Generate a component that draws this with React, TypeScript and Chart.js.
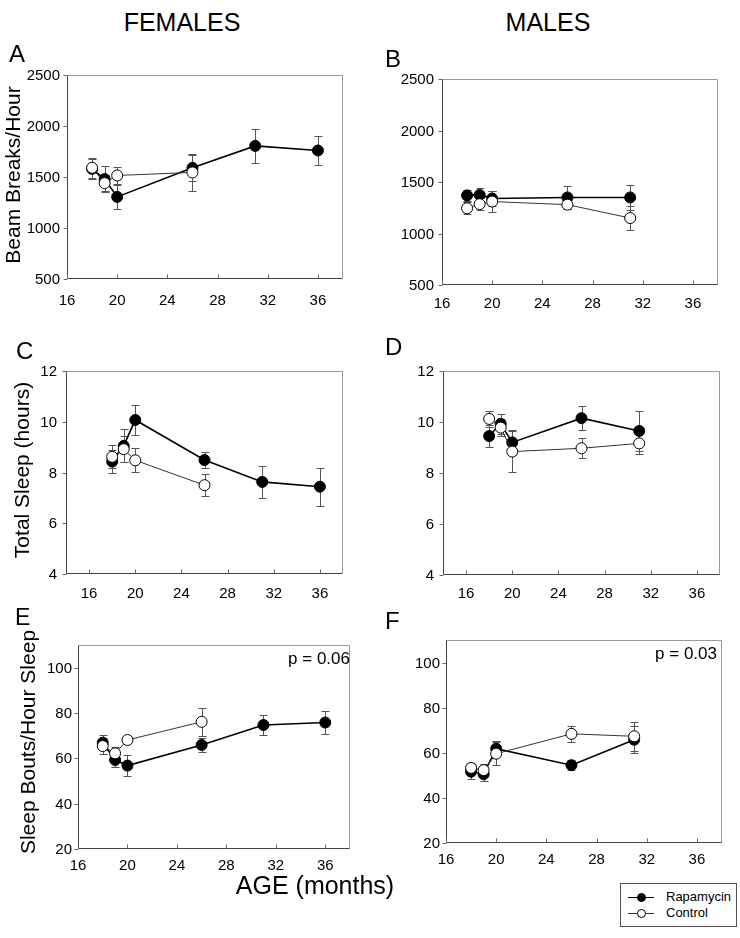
import React, { useEffect, useRef } from 'react';
import { Chart, registerables } from 'chart.js';
Chart.register(...registerables);

const FONT = '"Liberation Sans", Arial, Helvetica, sans-serif';

// ---- data ----
const agesFemaleRapa = [18, 19, 20, 26, 31, 36];
const agesFemaleCtrl = [18, 19, 20, 26];
const agesMale = [18, 19, 20, 26, 31];

const xTickValues = [16, 20, 24, 28, 32, 36];
const beamTicks = [500, 1000, 1500, 2000, 2500];
const sleepTicks = [4, 6, 8, 10, 12];
const boutTicks = [20, 40, 60, 80, 100];

// A: Females beam breaks/hour
const beamFemRapa = [1580, 1480, 1305, 1590, 1805, 1760];
const beamFemRapaErr = [100, 130, 115, 125, 165, 140];
const beamFemCtrl = [1590, 1440, 1515, 1545];
const beamFemCtrlErr = [95, 80, 85, 185];
// B: Males beam breaks/hour
const beamMaleRapa = [1370, 1375, 1340, 1350, 1350];
const beamMaleRapaErr = [55, 70, 70, 110, 120];
const beamMaleCtrl = [1245, 1285, 1310, 1280, 1150];
const beamMaleCtrlErr = [60, 60, 105, 45, 120];
// C: Females total sleep
const sleepFemRapa = [8.43, 9.05, 10.07, 8.49, 7.63, 7.44];
const sleepFemRapaErr = [0.45, 0.65, 0.6, 0.33, 0.63, 0.75];
const sleepFemCtrl = [8.62, 8.92, 8.48, 7.5];
const sleepFemCtrlErr = [0.45, 0.5, 0.47, 0.44];
// D: Males total sleep
const sleepMaleRapa = [9.45, 9.93, 9.2, 10.15, 9.65];
const sleepMaleRapaErr = [0.44, 0.4, 0.5, 0.46, 0.8];
const sleepMaleCtrl = [10.12, 9.78, 8.84, 8.97, 9.16];
const sleepMaleCtrlErr = [0.3, 0.33, 0.8, 0.4, 0.4];
// E: Females sleep bouts/hour sleep
const boutFemRapa = [66.9, 59.3, 56.8, 65.9, 74.7, 75.8];
const boutFemRapaErr = [3.4, 3, 4.5, 3, 4.6, 5];
const boutFemCtrl = [65.4, 62.2, 68.1, 76.1];
const boutFemCtrlErr = [3.5, 3, 1.5, 6.3];
// F: Males sleep bouts/hour sleep
const boutMaleRapa = [51.6, 50.5, 61.8, 54.5, 65.8];
const boutMaleRapaErr = [3.3, 3, 3.4, 2.2, 6];
const boutMaleCtrl = [53.3, 52.3, 59.6, 68.4, 67.3];
const boutMaleCtrlErr = [2.2, 2.6, 5, 3.4, 6.3];

const seriesNames = ['Rapamycin', 'Control'];

// ---- layout ----
const PAD_LEFT = 60;
const PAD_TOP = 14;
const PAD_RIGHT = 12;
const PAD_BOTTOM = 40;
const TICK_FONT = 15;

type Box = { l: number; t: number; r: number; b: number };

const panels = [
  {
    key: 'A', box: { l: 67, t: 75, r: 343, b: 279 }, xMin: 16, xMax: 38, yMin: 500, yMax: 2500, yTicks: beamTicks, xOff: 22, yGap: 7,
    rapa: [agesFemaleRapa, beamFemRapa, beamFemRapaErr], ctrl: [agesFemaleCtrl, beamFemCtrl, beamFemCtrlErr],
  },
  {
    key: 'B', box: { l: 442, t: 79, r: 718, b: 285 }, xMin: 16, xMax: 38, yMin: 500, yMax: 2500, yTicks: beamTicks, xOff: 19, yGap: 8,
    rapa: [agesMale, beamMaleRapa, beamMaleRapaErr], ctrl: [agesMale, beamMaleCtrl, beamMaleCtrlErr],
  },
  {
    key: 'C', box: { l: 66, t: 371, r: 343, b: 574 }, xMin: 14, xMax: 38, yMin: 4, yMax: 12, yTicks: sleepTicks, xOff: 20, yGap: 9,
    rapa: [agesFemaleRapa, sleepFemRapa, sleepFemRapaErr], ctrl: [agesFemaleCtrl, sleepFemCtrl, sleepFemCtrlErr],
  },
  {
    key: 'D', box: { l: 443, t: 371, r: 720, b: 575 }, xMin: 14, xMax: 38, yMin: 4, yMax: 12, yTicks: sleepTicks, xOff: 19, yGap: 9,
    rapa: [agesMale, sleepMaleRapa, sleepMaleRapaErr], ctrl: [agesMale, sleepMaleCtrl, sleepMaleCtrlErr],
  },
  {
    key: 'E', box: { l: 78, t: 645, r: 350, b: 849 }, xMin: 16, xMax: 38, yMin: 20, yMax: 110, yTicks: boutTicks, xOff: 17, yGap: 6,
    rapa: [agesFemaleRapa, boutFemRapa, boutFemRapaErr], ctrl: [agesFemaleCtrl, boutFemCtrl, boutFemCtrlErr],
  },
  {
    key: 'F', box: { l: 446, t: 640, r: 722, b: 843 }, xMin: 16, xMax: 38, yMin: 20, yMax: 110, yTicks: boutTicks, xOff: 16.5, yGap: 6,
    rapa: [agesMale, boutMaleRapa, boutMaleRapaErr], ctrl: [agesMale, boutMaleCtrl, boutMaleCtrlErr],
  },
];

const errorBarPlugin = {
  id: 'errorBars',
  beforeDatasetsDraw(chart: any) {
    const ctx = chart.ctx;
    const ys = chart.scales.y;
    chart.data.datasets.forEach((ds: any, di: number) => {
      const meta = chart.getDatasetMeta(di);
      ctx.save();
      ctx.strokeStyle = '#555';
      ctx.lineWidth = 1;
      ds.data.forEach((p: any, i: number) => {
        const e = ds.errors[i];
        const x = Math.round(meta.data[i].x) + 0.5;
        const y1 = Math.round(ys.getPixelForValue(p.y + e)) + 0.5;
        const y2 = Math.round(ys.getPixelForValue(p.y - e)) + 0.5;
        ctx.beginPath();
        ctx.moveTo(x, y1); ctx.lineTo(x, y2);
        ctx.moveTo(x - 4, y1); ctx.lineTo(x + 4, y1);
        ctx.moveTo(x - 4, y2); ctx.lineTo(x + 4, y2);
        ctx.stroke();
      });
      ctx.restore();
    });
  },
};

const framePlugin = {
  id: 'frame',
  beforeDatasetsDraw(chart: any, _args: any, opts: any) {
    const { ctx, chartArea } = chart;
    const l = Math.round(chartArea.left) + 0.5;
    const t = Math.round(chartArea.top) + 0.5;
    const r = Math.round(chartArea.right) - 0.5;
    const b = Math.round(chartArea.bottom) - 0.5;
    ctx.save();
    ctx.lineWidth = 1;
    ctx.strokeStyle = '#9a9a9a';
    ctx.beginPath();
    ctx.moveTo(l, t); ctx.lineTo(r, t); ctx.lineTo(r, b);
    ctx.stroke();
    ctx.strokeStyle = '#444';
    ctx.beginPath();
    ctx.moveTo(l, t); ctx.lineTo(l, b); ctx.lineTo(r, b);
    ctx.stroke();
    const xs = chart.scales.x;
    const ys = chart.scales.y;
    ctx.strokeStyle = '#666';
    ctx.beginPath();
    xs.ticks.forEach((tk: any) => {
      const x = Math.round(xs.getPixelForValue(tk.value)) + 0.5;
      ctx.moveTo(x, b); ctx.lineTo(x, b - 4);
    });
    ys.ticks.forEach((tk: any) => {
      const y = Math.round(ys.getPixelForValue(tk.value)) + 0.5;
      ctx.moveTo(l, y); ctx.lineTo(l - 4, y);
    });
    ctx.stroke();
    // tick labels
    ctx.fillStyle = '#000';
    ctx.font = `${TICK_FONT}px ${FONT}`;
    ctx.textAlign = 'center';
    ctx.textBaseline = 'middle';
    xs.ticks.forEach((tk: any) => {
      ctx.fillText(String(tk.value), xs.getPixelForValue(tk.value), chartArea.bottom + opts.xOff);
    });
    ctx.textAlign = 'right';
    ys.ticks.forEach((tk: any) => {
      ctx.fillText(String(tk.value), chartArea.left - opts.yGap, ys.getPixelForValue(tk.value) + 1);
    });
    ctx.restore();
  },
};

function toPoints(xs: number[], ys: number[]) {
  return xs.map((x, i) => ({ x, y: ys[i] }));
}

function Panel({ cfg }: { cfg: any }) {
  const ref = useRef<HTMLCanvasElement>(null);
  const box: Box = cfg.box;
  const w = box.r - box.l + PAD_LEFT + PAD_RIGHT;
  const h = box.b - box.t + PAD_TOP + PAD_BOTTOM;
  useEffect(() => {
    const canvas = ref.current;
    if (!canvas) return;
    const pad = { top: PAD_TOP, right: PAD_RIGHT, left: 0, bottom: 0 };
    const chart = new Chart(canvas, {
      type: 'line',
      data: {
        datasets: [
          {
            label: seriesNames[1],
            data: toPoints(cfg.ctrl[0], cfg.ctrl[1]),
            errors: cfg.ctrl[2],
            borderColor: '#333',
            borderWidth: 1,
            pointBackgroundColor: '#fff',
            pointBorderColor: '#000',
            pointBorderWidth: 1,
            pointRadius: 5.5,
            tension: 0,
            order: 0,
          } as any,
          {
            label: seriesNames[0],
            data: toPoints(cfg.rapa[0], cfg.rapa[1]),
            errors: cfg.rapa[2],
            borderColor: '#000',
            borderWidth: 1.6,
            pointBackgroundColor: '#000',
            pointBorderColor: '#000',
            pointBorderWidth: 1,
            pointRadius: 5.5,
            tension: 0,
            order: 1,
          } as any,
        ],
      },
      options: {
        animation: false,
        responsive: false,
        maintainAspectRatio: false,
        layout: { padding: { ...pad } },
        plugins: {
          legend: { display: false },
          tooltip: { enabled: false },
          frame: { xOff: cfg.xOff, yGap: cfg.yGap },
        },
        scales: {
          x: {
            type: 'linear',
            min: cfg.xMin,
            max: cfg.xMax,
            grid: { display: false },
            border: { display: false },
            ticks: { display: false },
            afterBuildTicks: (s: any) => { s.ticks = xTickValues.map((v) => ({ value: v })); },
            afterFit: (s: any) => { s.height = PAD_BOTTOM; },
          },
          y: {
            type: 'linear',
            min: cfg.yMin,
            max: cfg.yMax,
            grid: { display: false },
            border: { display: false },
            ticks: { display: false },
            afterBuildTicks: (s: any) => { s.ticks = cfg.yTicks.map((v: number) => ({ value: v })); },
            afterFit: (s: any) => { s.width = PAD_LEFT; },
          },
        },
      } as any,
      plugins: [framePlugin, errorBarPlugin],
    });
    // make the plot area land exactly on the wanted box
    for (let k = 0; k < 3; k++) {
      const ca = chart.chartArea;
      const wantH = box.b - box.t;
      const wantW = box.r - box.l;
      const dh = (ca.bottom - ca.top) - wantH;
      const dw = (ca.right - ca.left) - wantW;
      if (Math.abs(dh) < 0.5 && Math.abs(dw) < 0.5) break;
      pad.top = Math.max(0, pad.top + dh);
      pad.right = Math.max(0, pad.right + dw);
      (chart.options as any).layout.padding = { ...pad };
      chart.update();
    }
    const ca = chart.chartArea;
    canvas.style.left = `${box.l - ca.left}px`;
    canvas.style.top = `${box.t - ca.top}px`;
    return () => chart.destroy();
  }, []);
  return (
    <canvas
      ref={ref}
      width={w}
      height={h}
      style={{ position: 'absolute', left: box.l - PAD_LEFT, top: box.t - PAD_TOP, width: w, height: h }}
    />
  );
}

const txt = (extra: React.CSSProperties): React.CSSProperties => ({
  position: 'absolute',
  fontFamily: FONT,
  color: '#000',
  lineHeight: 1,
  whiteSpace: 'nowrap',
  ...extra,
});

function Centered({ x, y, size, children, rotate }: any) {
  return (
    <div
      style={txt({
        left: x,
        top: y,
        fontSize: size,
        transform: `translate(-50%, -50%)${rotate ? ' rotate(-90deg)' : ''}`,
      })}
    >
      {children}
    </div>
  );
}

export default function App() {
  return (
    <div style={{ position: 'absolute', left: 0, top: 0, width: 740, height: 938, background: '#fff', overflow: 'hidden' }}>
      {panels.map((p) => (
        <Panel key={p.key} cfg={p} />
      ))}
      <Centered x={182} y={22} size={25}>FEMALES</Centered>
      <Centered x={548} y={22} size={25}>MALES</Centered>

      <div style={txt({ left: 9, top: 42, fontSize: 24 })}>A</div>
      <div style={txt({ left: 385, top: 47, fontSize: 24 })}>B</div>
      <div style={txt({ left: 16, top: 339, fontSize: 24 })}>C</div>
      <div style={txt({ left: 385, top: 335, fontSize: 24 })}>D</div>
      <div style={txt({ left: 15, top: 606, fontSize: 23 })}>E</div>
      <div style={txt({ left: 385, top: 609, fontSize: 24 })}>F</div>

      <Centered x={12} y={175} size={21} rotate>Beam Breaks/Hour</Centered>
      <Centered x={21} y={470} size={21} rotate>Total Sleep (hours)</Centered>
      <Centered x={27} y={742} size={21} rotate>Sleep Bouts/Hour Sleep</Centered>

      <div style={txt({ right: 740 - 350, top: 650, fontSize: 17 })}>p = 0.06</div>
      <div style={txt({ right: 740 - 717, top: 645, fontSize: 17 })}>p = 0.03</div>

      <Centered x={315} y={885} size={25}>AGE (months)</Centered>

      <div style={{ position: 'absolute', left: 620, top: 883, width: 115, height: 42, border: '1px solid #555', background: '#fff' }}>
        {seriesNames.map((name, i) => (
          <div key={name} style={{ position: 'absolute', left: 0, top: 6 + i * 16, height: 14, width: 115 }}>
            <div style={{ position: 'absolute', left: 7, top: 7, width: 26, height: 0, borderTop: i === 0 ? '1.5px solid #000' : '1px solid #333' }} />
            <div
              style={{
                position: 'absolute', left: 16, top: 3, width: 7, height: 7, borderRadius: '50%',
                border: '1px solid #000', background: i === 0 ? '#000' : '#fff',
              }}
            />
            <div style={txt({ left: 45, top: 0, fontSize: 13 })}>{name}</div>
          </div>
        ))}
      </div>
    </div>
  );
}
